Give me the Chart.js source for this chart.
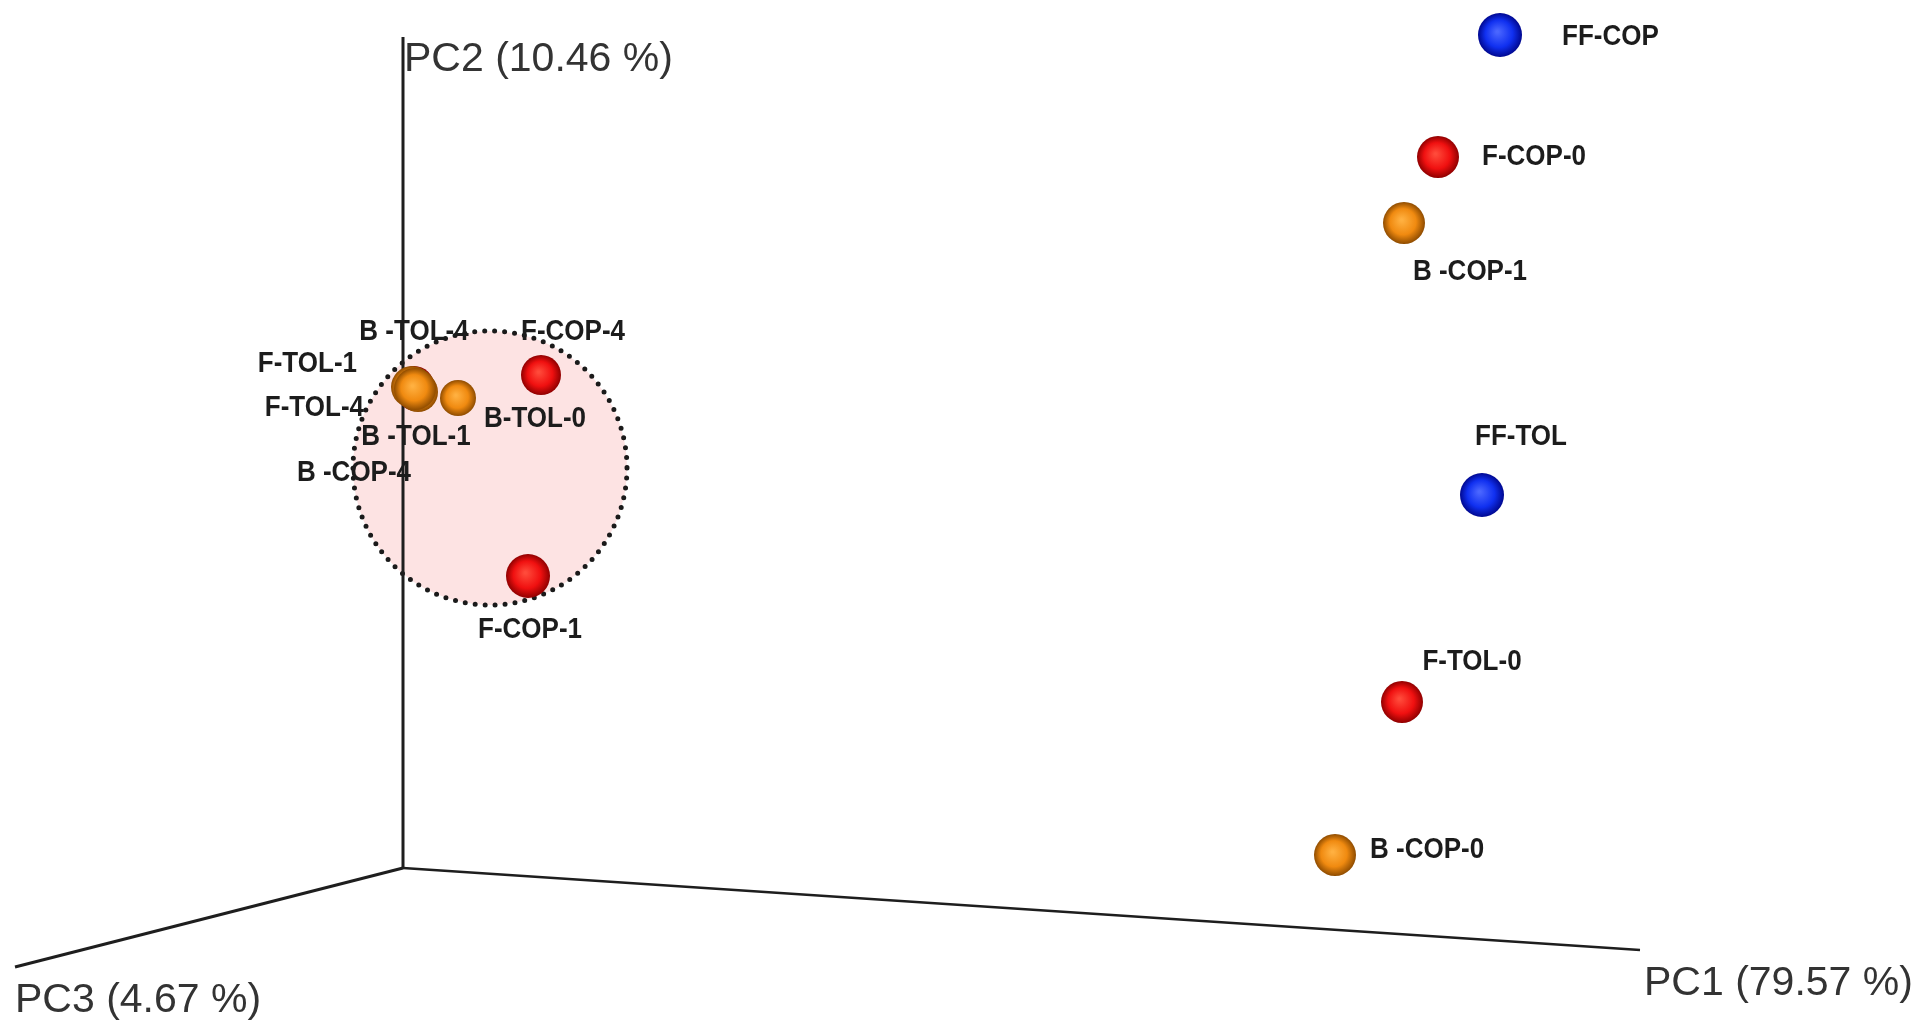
<!DOCTYPE html>
<html><head><meta charset="utf-8">
<script src="https://cdn.jsdelivr.net/npm/chart.js@4.4.1/dist/chart.umd.min.js"></script>
<style>html,body{margin:0;padding:0;background:#fff;overflow:hidden}#wrap{position:relative;width:1919px;height:1023px}</style>
</head><body><div id="wrap"><canvas id="c" width="1919" height="1023"></canvas></div>
<script>
// ---- DATA: projected 2-D positions of the PCA scores (origin = intersection of the axes)
const axisTitles = ['PC1 (79.57 %)', 'PC2 (10.46 %)', 'PC3 (4.67 %)'];
const axisEndX = [123.7, 0, -38.8];
const axisEndY = [-8.2, 83.1, -9.9];

const ffNames = ['FF-COP', 'FF-TOL'];
const ffX = [109.7, 107.9];
const ffY = [83.3, 37.3];

const fNames = ['F-COP-0', 'F-TOL-0', 'F-COP-4', 'F-COP-1', 'F-TOL-1', 'F-TOL-4'];
const fX = [103.5, 99.9, 13.8, 12.5, 1.1, 1.3];
const fY = [71.1, 16.6, 49.3, 29.2, 48.2, 47.7];

const bNames = ['B -COP-1', 'B -COP-0', 'B-TOL-0', 'B -TOL-4', 'B -TOL-1', 'B -COP-4'];
const bX = [100.1, 93.2, 5.5, 0.9, 1.5, 1.2];
const bY = [64.5, 1.3, 47.0, 48.1, 47.6, 47.9];

const clusterCenter = [8.7, 40.0];
const clusterRadius = 13.7;

// ---- STYLE (sizes and label placement, in pixels)
const markStyle = {
  'FF-COP':   {r: 22, dx: 62,  dy: 2,   align: 'left'},
  'FF-TOL':   {r: 22, dx: 39,  dy: -58, align: 'center'},
  'F-COP-0':  {r: 21, dx: 44,  dy: 0,   align: 'left'},
  'F-TOL-0':  {r: 21, dx: 70,  dy: -40, align: 'center'},
  'F-COP-4':  {r: 20, dx: 32,  dy: -43, align: 'center'},
  'F-COP-1':  {r: 22, dx: 2,   dy: 54,  align: 'center'},
  'F-TOL-1':  {r: 20, dx: -57, dy: -22, align: 'right'},
  'F-TOL-4':  {r: 20, dx: -52, dy: 17,  align: 'right'},
  'B -COP-1': {r: 21, dx: 66,  dy: 49,  align: 'center'},
  'B -COP-0': {r: 21, dx: 35,  dy: -5,  align: 'left'},
  'B-TOL-0':  {r: 18, dx: 26,  dy: 21,  align: 'left'},
  'B -TOL-4': {r: 21, dx: 2,   dy: -55, align: 'center'},
  'B -TOL-1': {r: 20, dx: -2,  dy: 45,  align: 'center'},
  'B -COP-4': {r: 21, dx: -61, dy: 84,  align: 'center'}
};
const axisTitleOffset = [[4, 45], [1, 34], [0, 45]];
const sphereColors = {
  FF: ['#4a66ff', '#1030f0', '#000890'],
  F:  ['#ff4a3a', '#f01010', '#900000'],
  B:  ['#ffb040', '#f08a10', '#8f4c00']
};

function pts(xs, ys) { return xs.map((x, i) => ({x: x, y: ys[i]})); }
function nameOf(ctx) { return ctx.dataset.names[ctx.dataIndex]; }
function radiusOf(ctx) { return ctx.type === 'data' ? markStyle[nameOf(ctx)].r : 20; }
function sphereFill(stops) {
  return function (ctx) {
    if (ctx.type !== 'data') return stops[1];
    const ch = ctx.chart;
    const x = ch.scales.x.getPixelForValue(ctx.parsed.x);
    const y = ch.scales.y.getPixelForValue(ctx.parsed.y);
    if (!isFinite(x) || !isFinite(y)) return stops[1];
    const r = radiusOf(ctx);
    const g = ch.ctx.createRadialGradient(x - r * 0.12, y - r * 0.15, r * 0.05, x, y, r);
    g.addColorStop(0, stops[0]);
    g.addColorStop(0.6, stops[1]);
    g.addColorStop(1, stops[2]);
    return g;
  };
}
function sphereSet(label, names, xs, ys, stops, order) {
  return {
    type: 'scatter', label: label, names: names, data: pts(xs, ys), order: order,
    pointRadius: radiusOf, pointHoverRadius: radiusOf,
    pointBackgroundColor: sphereFill(stops), pointBorderWidth: 0, borderWidth: 0
  };
}
const axisSets = axisTitles.map((t, i) => ({
  type: 'line', label: t, data: [{x: 0, y: 0}, {x: axisEndX[i], y: axisEndY[i]}],
  borderColor: '#1e1e1e', borderWidth: i === 0 ? 2.5 : 3, pointRadius: 0, fill: false, order: 10
}));

const clusterPlugin = {
  id: 'cluster',
  beforeDatasetsDraw(chart) {
    const c = chart.ctx, sx = chart.scales.x, sy = chart.scales.y;
    const cx = sx.getPixelForValue(clusterCenter[0]);
    const cy = sy.getPixelForValue(clusterCenter[1]);
    const r = sx.getPixelForValue(clusterCenter[0] + clusterRadius) - cx;
    c.save();
    c.beginPath(); c.arc(cx, cy, r, 0, Math.PI * 2);
    c.fillStyle = '#fde3e3'; c.fill();
    c.setLineDash([0, 10]); c.lineCap = 'round'; c.lineWidth = 5; c.strokeStyle = '#1a1a1a';
    c.stroke();
    c.restore();
  }
};
const labelPlugin = {
  id: 'labels',
  afterDatasetsDraw(chart) {
    const c = chart.ctx, sx = chart.scales.x, sy = chart.scales.y;
    c.save();
    // axis titles
    c.font = '41px "Liberation Sans", Arial, sans-serif';
    c.fillStyle = '#333'; c.textAlign = 'left'; c.textBaseline = 'alphabetic';
    axisTitles.forEach((t, i) => {
      const x = sx.getPixelForValue(axisEndX[i]) + axisTitleOffset[i][0];
      const y = sy.getPixelForValue(axisEndY[i]) + axisTitleOffset[i][1];
      c.fillText(t, x, y);
    });
    // sample labels
    c.font = 'bold 26px "Liberation Sans", Arial, sans-serif';
    c.fillStyle = '#1c1c1c'; c.textBaseline = 'middle';
    chart.data.datasets.forEach((ds, di) => {
      if (!ds.names) return;
      const meta = chart.getDatasetMeta(di);
      meta.data.forEach((el, j) => {
        const s = markStyle[ds.names[j]];
        c.save();
        c.translate(el.x + s.dx, el.y + s.dy);
        c.scale(1, 1.12);
        c.textAlign = s.align;
        c.fillText(ds.names[j], 0, 0);
        c.restore();
      });
    });
    c.restore();
  }
};

new Chart(document.getElementById('c'), {
  data: {
    datasets: [
      sphereSet('B', bNames, bX, bY, sphereColors.B, 1),
      sphereSet('F', fNames, fX, fY, sphereColors.F, 2),
      sphereSet('FF', ffNames, ffX, ffY, sphereColors.FF, 3)
    ].concat(axisSets)
  },
  options: {
    responsive: false, animation: false, events: [],
    layout: {padding: 0, autoPadding: false},
    scales: {
      x: {type: 'linear', min: -40.3, max: 151.6, display: false},
      y: {type: 'linear', min: -15.5, max: 86.8, display: false}
    },
    plugins: {legend: {display: false}, tooltip: {enabled: false}}
  },
  plugins: [clusterPlugin, labelPlugin]
});
</script>
</body></html>
